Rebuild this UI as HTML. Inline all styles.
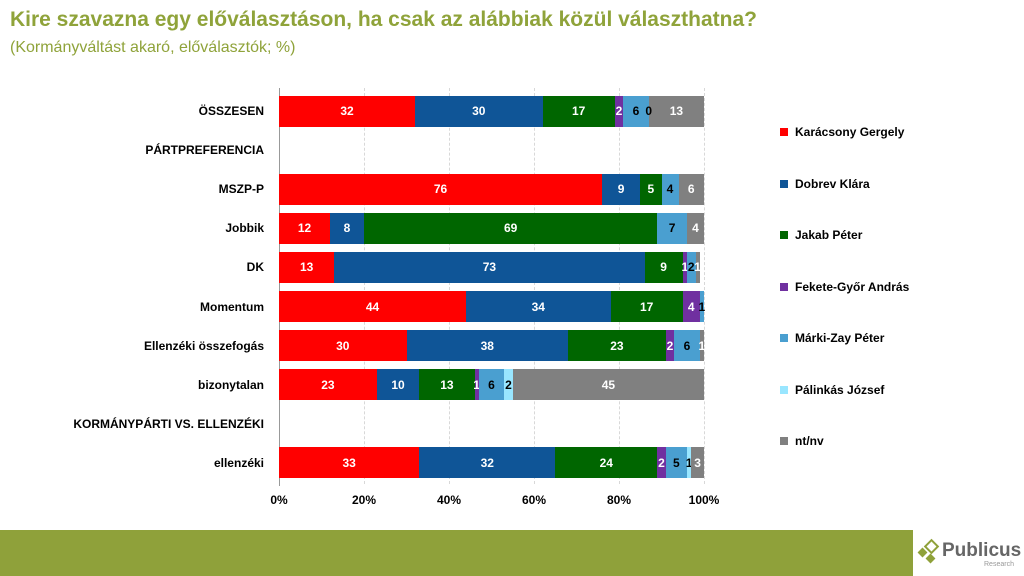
<!DOCTYPE html><html><head><meta charset="utf-8"><style>
body{margin:0;width:1024px;height:576px;position:relative;overflow:hidden;background:#fff;font-family:"Liberation Sans",sans-serif}
.t{position:absolute;left:10px;top:8px;font-size:21px;font-weight:bold;color:#8fa33a}
.s{position:absolute;left:10px;top:39px;font-size:16px;color:#8fa33a}
.lab{position:absolute;right:760px;font-size:12px;font-weight:bold;color:#000;white-space:nowrap;transform:translateY(-50%)}
.seg{position:absolute;height:31px;font-size:12px;font-weight:bold;display:flex;align-items:center;justify-content:center;overflow:visible;white-space:nowrap}
.g{position:absolute;top:88px;height:396px;border-left:1px dashed #d8d8d8}
.tick{position:absolute;top:493px;font-size:12px;font-weight:bold;transform:translateX(-50%)}
.leg{position:absolute;left:780px;font-size:12px;font-weight:bold;display:flex;align-items:center}
.leg i{display:inline-block;width:8px;height:8px;margin-right:7px}
</style></head><body>
<div class="t">Kire szavazna egy előválasztáson, ha csak az alábbiak közül választhatna?</div>
<div class="s">(Kormányváltást akaró, előválasztók; %)</div>
<div id="c"></div>
<div style="position:absolute;left:279px;top:88px;height:398px;border-left:1px solid #999"></div>
<div style="position:absolute;left:0;top:530px;width:913px;height:46px;background:#8fa13a"></div>
<div style="position:absolute;left:918px;top:541px;width:20px;height:24px">
<div style="position:absolute;left:8px;top:0;width:7px;height:7px;border:2px solid #8fa13a;transform:rotate(45deg)"></div>
<div style="position:absolute;left:1px;top:8px;width:7px;height:7px;background:#8fa13a;transform:rotate(45deg)"></div>
<div style="position:absolute;left:9px;top:14px;width:7px;height:7px;background:#8fa13a;transform:rotate(45deg)"></div></div>
<div style="position:absolute;left:942px;top:540px;font-size:19px;font-weight:bold;color:#666">Publicus</div>
<div style="position:absolute;left:984px;top:561px;font-size:7px;color:#999">Research</div>
<script>
var C=["#ff0000","#0f5597","#006600","#7030a0","#4a9fd0","#99e6ff","#808080"];
var TC=["#fff","#fff","#fff","#fff","#000","#000","#fff"];
var rows=[["ÖSSZESEN",[32,30,17,2,6,0,13],[0,0,0,0,0,1,0]],["PÁRTPREFERENCIA",null],["MSZP-P",[76,9,5,0,4,0,6]],["Jobbik",[12,8,69,0,7,0,4]],["DK",[13,73,9,1,2,0,1]],["Momentum",[44,34,17,4,1,0,0]],["Ellenzéki összefogás",[30,38,23,2,6,0,1]],["bizonytalan",[23,10,13,1,6,2,45]],["KORMÁNYPÁRTI VS. ELLENZÉKI",null],["ellenzéki",[33,32,24,2,5,1,3]]];
var h="",x0=279,W=425;
for(var k=1;k<=5;k++)h+='<div class="g" style="left:'+(x0+W*k/5)+'px"></div>';
rows.forEach(function(r,i){var cy=111+i*39.1;h+='<div class="lab" style="top:'+cy+'px">'+r[0]+'</div>';
if(r[1]){var x=x0;r[1].forEach(function(v,j){var w=W*v/100;var show=v>0||(r[2]&&r[2][j]);
if(show)h+='<div class="seg" style="left:'+x+'px;top:'+(cy-15.5)+'px;width:'+w+'px;background:'+C[j]+';color:'+(v==0?'#000':TC[j])+';z-index:'+(v==0?5:1)+'">'+v+'</div>';x+=w;});}});
["0%","20%","40%","60%","80%","100%"].forEach(function(t,k){h+='<div class="tick" style="left:'+(x0+W*k/5)+'px">'+t+'</div>'});
var L=["Karácsony Gergely","Dobrev Klára","Jakab Péter","Fekete-Győr András","Márki-Zay Péter","Pálinkás József","nt/nv"];
L.forEach(function(n,j){h+='<div class="leg" style="top:'+(125+j*51.5)+'px"><i style="background:'+C[j]+'"></i>'+n+'</div>'});
document.getElementById("c").innerHTML=h;
</script></body></html>
